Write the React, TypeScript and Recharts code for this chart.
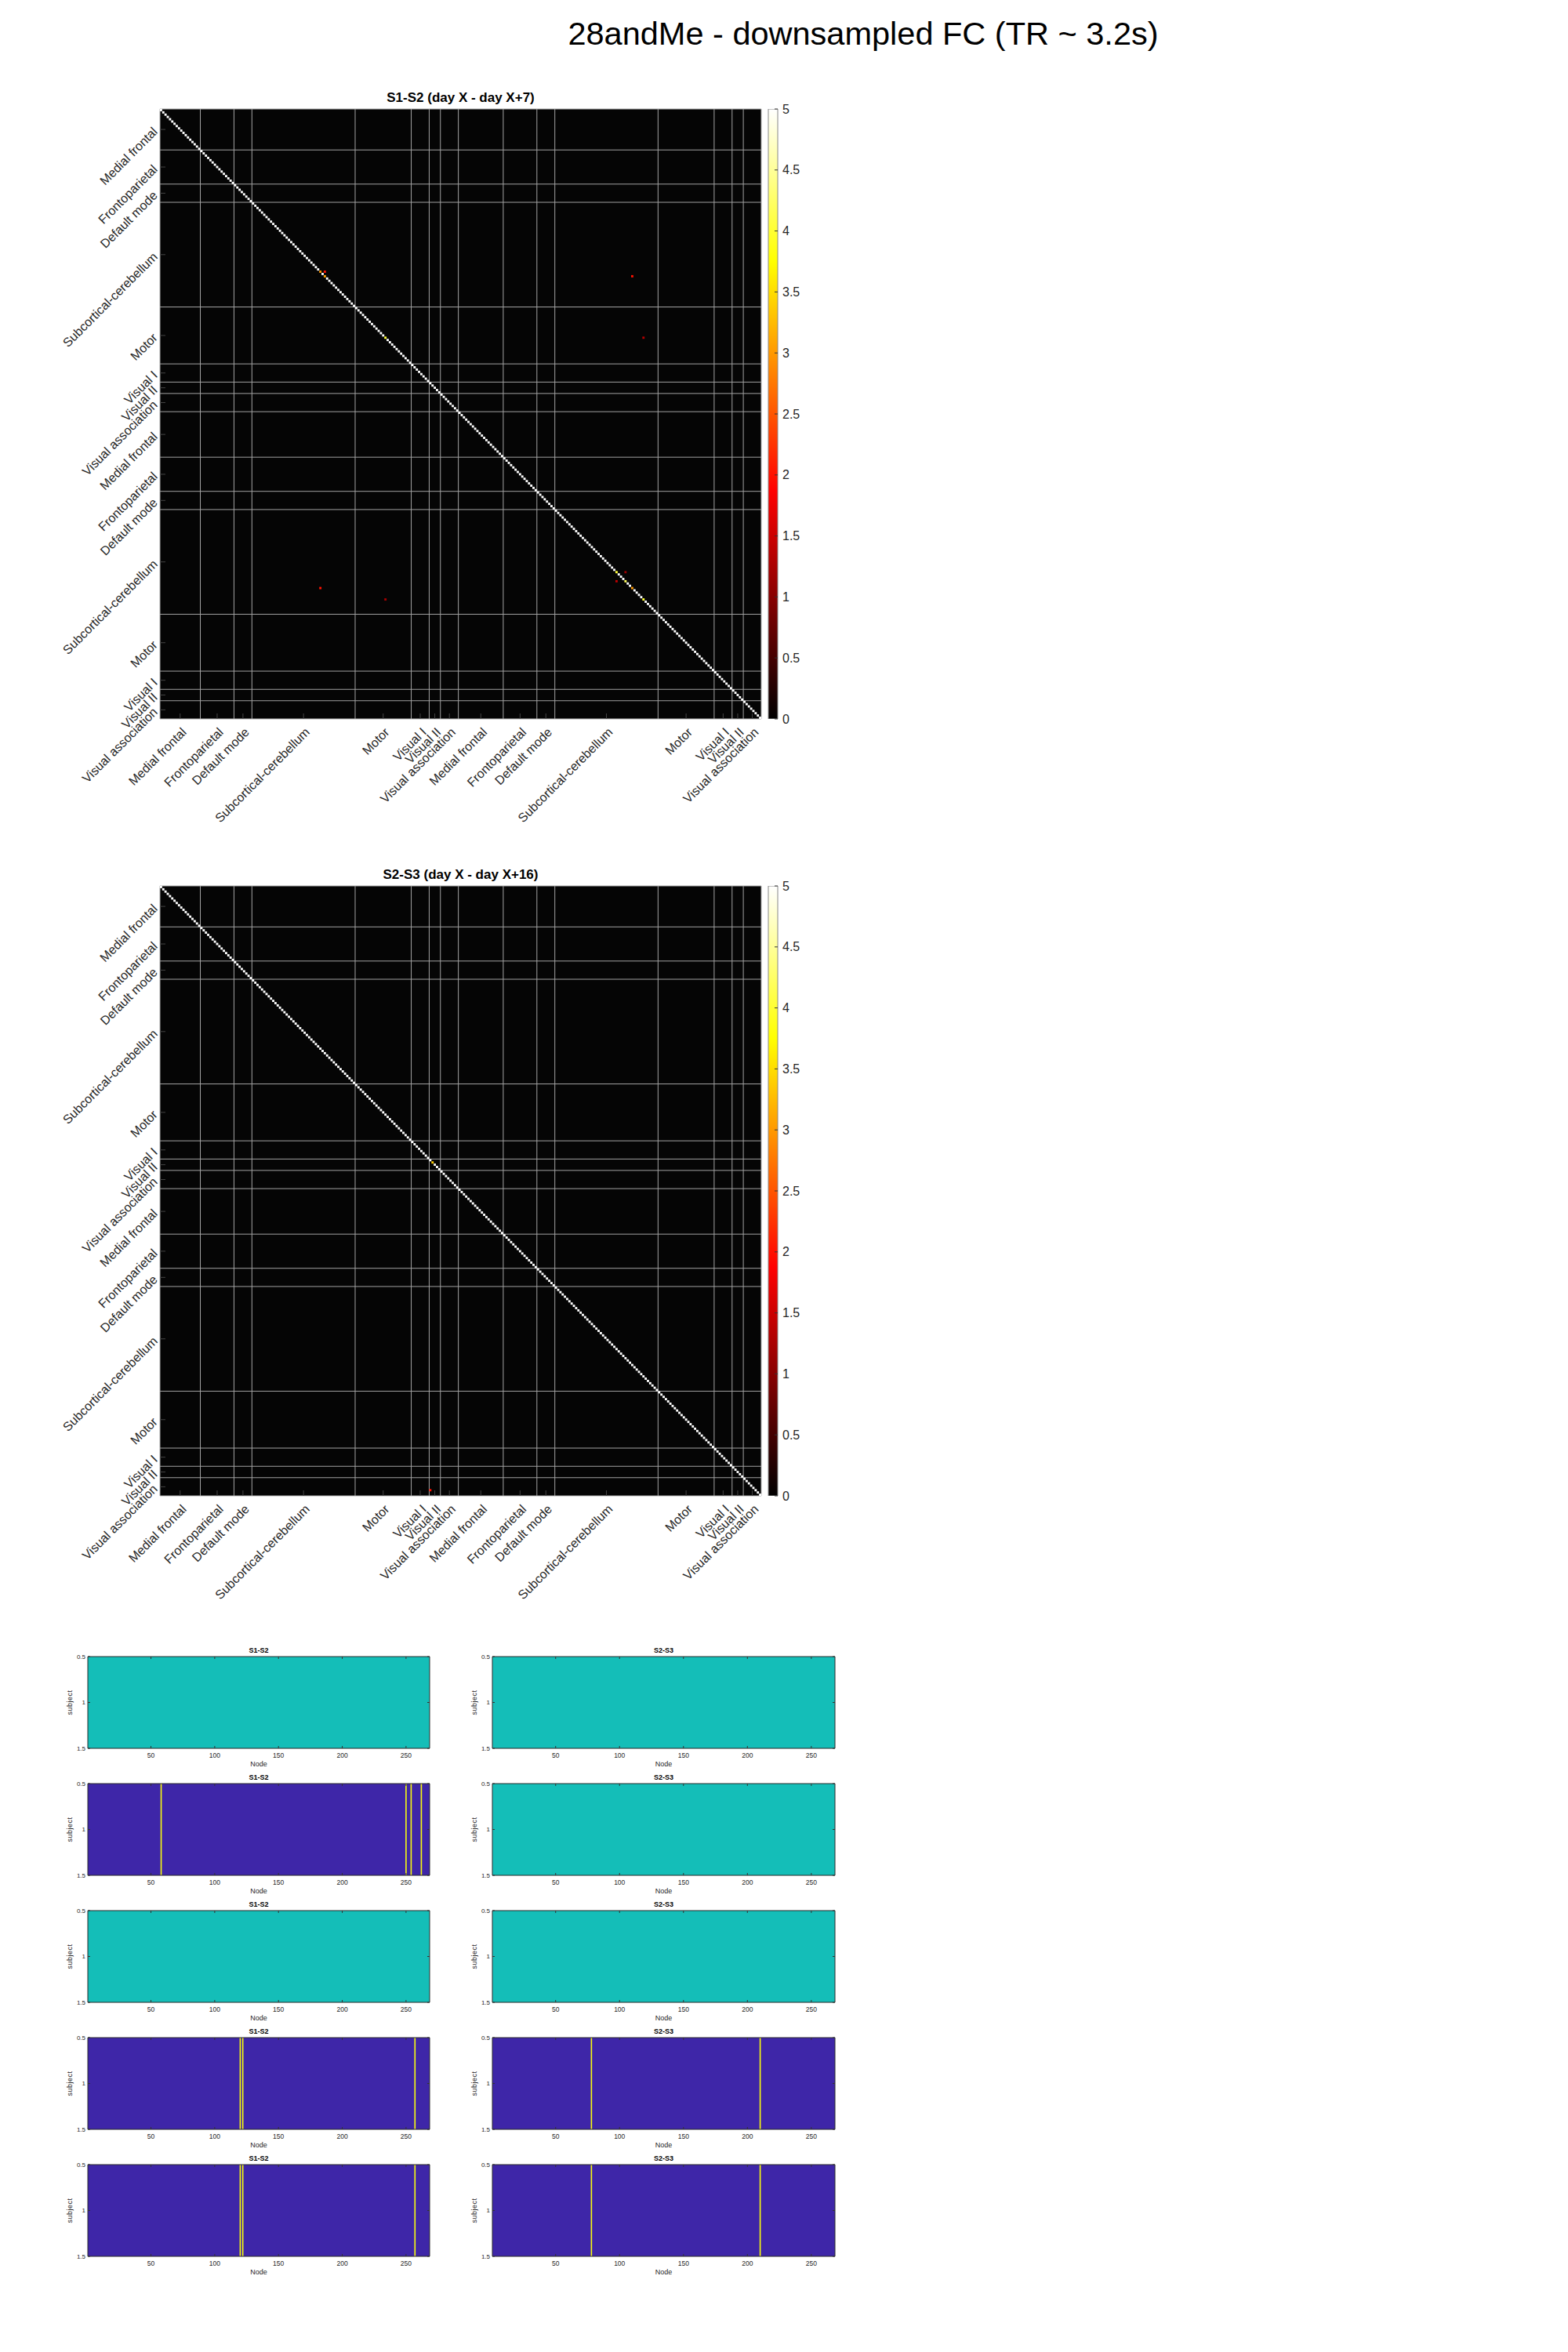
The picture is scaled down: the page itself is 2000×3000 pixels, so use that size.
import React from 'react';
import {
  ScatterChart,
  Scatter,
  XAxis,
  YAxis,
  ReferenceLine,
  ReferenceArea,
  BarChart,
  Bar,
  ComposedChart,
} from 'recharts';

const FONT = '"Liberation Sans", Arial, Helvetica, sans-serif';
const INK = '#262626';

// ---------------- data ----------------
const NODE_COUNT = 268;
const networkNames = [
  'Medial frontal',
  'Frontoparietal',
  'Default mode',
  'Subcortical-cerebellum',
  'Motor',
  'Visual I',
  'Visual II',
  'Visual association',
];
const networkSizesLeft = [18, 15, 8, 46, 25, 8, 5, 8];
const networkSizesRight = [20, 15, 8, 46, 25, 8, 5, 8];

const heatmapTitles = ['S1-S2 (day X - day X+7)', 'S2-S3 (day X - day X+16)'];
const DIAG_VALUE = 5;
// diagonal cells that are not at the maximum value
const s1s2DiagonalExceptions: Record<number, number> = { 72: 3.0, 74: 3.1, 101: 4.0, 204: 4.0, 208: 4.2, 211: 3.0, 216: 4.0 };
const s2s3DiagonalExceptions: Record<number, number> = { 122: 3.4 };
// [column node, row node, value]
const s1s2OffDiagonal: [number, number, number][] = [
  [74, 72, 2.0],
  [211, 74, 2.0],
  [216, 101, 1.3],
  [208, 204, 1.1],
  [204, 208, 1.4],
  [72, 211, 2.0],
  [101, 216, 1.2],
];
const s2s3OffDiagonal: [number, number, number][] = [[121, 266, 2.0]];

const colorbarTicks = [0, 0.5, 1, 1.5, 2, 2.5, 3, 3.5, 4, 4.5, 5];
const colorbarValue = [{ name: 'scale', v: 5 }];

const panelTitles = ['S1-S2', 'S2-S3'];
const nodeTicks = [50, 100, 150, 200, 250];
const subjectTicks = [0.5, 1, 1.5];
// per panel row: whether all nodes are equal (uniform) and which nodes differ
const s1s2Rows = [
  { uniform: true, nodes: [] as number[] },
  { uniform: false, nodes: [58, 250, 254, 262] },
  { uniform: true, nodes: [] as number[] },
  { uniform: false, nodes: [120, 122, 257] },
  { uniform: false, nodes: [120, 122, 257] },
];
const s2s3Rows = [
  { uniform: true, nodes: [] as number[] },
  { uniform: true, nodes: [] as number[] },
  { uniform: true, nodes: [] as number[] },
  { uniform: false, nodes: [78, 210] },
  { uniform: false, nodes: [78, 210] },
];

// ---------------- derived ----------------
const allSizes = [...networkSizesLeft, ...networkSizesRight];
const allNames = [...networkNames, ...networkNames];
const boundaries: number[] = [0.5];
allSizes.forEach((s) => boundaries.push(boundaries[boundaries.length - 1] + s));
const innerBoundaries = boundaries.slice(1, -1);
const centers = allSizes.map((_, i) => (boundaries[i] + boundaries[i + 1]) / 2);
const labelAt = (v: number) => {
  const i = centers.findIndex((c) => Math.abs(c - v) < 1e-6);
  return i >= 0 ? allNames[i] : '';
};
const nodeIds = Array.from({ length: NODE_COUNT }, (_, i) => i + 1);
const DOMAIN: [number, number] = [0.5, NODE_COUNT + 0.5];

function hot(v: number, vmax = 5) {
  const t = Math.max(0, Math.min(1, v / vmax));
  const r = Math.min(1, t / 0.375);
  const g = Math.max(0, Math.min(1, (t - 0.375) / 0.375));
  const b = Math.max(0, Math.min(1, (t - 0.75) / 0.25));
  const h = (x: number) => Math.round(x * 255).toString(16).padStart(2, '0');
  return `#${h(r)}${h(g)}${h(b)}`;
}

// ---------------- layout ----------------
const HM_LEFT = 204;
const PLOT_W = 767;
const PLOT_H = 778;
const hmTops = [139, 1130];
const CHART_W = 1100;
const CHART_H = 1150;
const CB_LEFT = 980;
const CB_W = 12;
const AX = 1; // axis band thickness (must be > 0 for ticks to render)

const PANEL_LEFTS = [112, 628];
const PANEL_WS = [436, 437];
const PANEL_H = 117;
const PANEL_TOP0 = 2113;
const PANEL_PITCH = 162;

const PARULA_LOW = '#3E26A8';
const PARULA_MID = '#14BEB8';
const PARULA_HIGH = '#F9FB0E';

// ---------------- heatmap ----------------
function HmXTick(p: any) {
  const { x, y, payload } = p;
  const ax = x + 5;
  const ay = y + 14;
  return (
    <g>
      <line x1={x} x2={x} y1={y} y2={y - 7} stroke="#444" strokeWidth={1} />
      <text
        x={ax}
        y={ay}
        textAnchor="end"
        dominantBaseline="central"
        transform={`rotate(-45 ${ax} ${ay})`}
        fontSize={16}
        fontFamily={FONT}
        fill={INK}
      >
        {labelAt(payload.value)}
      </text>
    </g>
  );
}

function HmYTick(p: any) {
  const { x, y, payload } = p;
  const ax = x - 6;
  const ay = y;
  return (
    <g>
      <line x1={x} x2={x + 7} y1={y} y2={y} stroke="#444" strokeWidth={1} />
      <text
        x={ax}
        y={ay}
        textAnchor="end"
        dominantBaseline="central"
        transform={`rotate(-45 ${ax} ${ay})`}
        fontSize={16}
        fontFamily={FONT}
        fill={INK}
      >
        {labelAt(payload.value)}
      </text>
    </g>
  );
}

const CELL_W = PLOT_W / NODE_COUNT;
const CELL_H = PLOT_H / NODE_COUNT;
function renderCell(p: any) {
  const { cx, cy, payload } = p;
  return (
    <rect
      x={cx - CELL_W / 2}
      y={cy - CELL_H / 2}
      width={CELL_W}
      height={CELL_H}
      fill={hot(payload.v)}
    />
  );
}

function CbTick(p: any) {
  const { x, y, payload } = p;
  return (
    <g>
      <line x1={x} x2={x - 4} y1={y} y2={y} stroke="#333" strokeWidth={1} />
      <text x={x + 6} y={y} dominantBaseline="central" fontSize={16} fontFamily={FONT} fill={INK}>
        {String(payload.value)}
      </text>
    </g>
  );
}

function Heatmap({ index, diag, off }: { index: number; diag: Record<number, number>; off: [number, number, number][] }) {
  const top = hmTops[index];
  const chartTop = top - 100;
  const cells = [
    ...nodeIds.map((n) => ({ x: n, y: n, v: diag[n] ?? DIAG_VALUE })),
    ...off.map(([x, y, v]) => ({ x, y, v })),
  ];
  const gid = `hotGrad${index}`;
  return (
    <>
      <div
        style={{
          position: 'absolute',
          left: HM_LEFT,
          top,
          width: PLOT_W,
          height: PLOT_H,
          background: '#050505',
        }}
      />
      <div
        style={{
          position: 'absolute',
          left: HM_LEFT,
          width: PLOT_W,
          top: top - 23,
          textAlign: 'center',
          fontFamily: FONT,
          fontWeight: 'bold',
          fontSize: 17,
          lineHeight: '17px',
          color: '#000',
        }}
      >
        {heatmapTitles[index]}
      </div>
      <div style={{ position: 'absolute', left: 0, top: chartTop }}>
        <ScatterChart
          width={CHART_W}
          height={CHART_H}
          margin={{
            top: 100,
            left: HM_LEFT - AX,
            right: CHART_W - HM_LEFT - PLOT_W,
            bottom: CHART_H - 100 - PLOT_H - AX,
          }}
        >
          <XAxis
            type="number"
            dataKey="x"
            domain={DOMAIN}
            ticks={centers}
            interval={0}
            allowDataOverflow
            height={AX}
            tickSize={0}
            tickMargin={0}
            tickLine={false}
            axisLine={false}
            tick={HmXTick}
          />
          <YAxis
            type="number"
            dataKey="y"
            domain={DOMAIN}
            reversed
            ticks={centers}
            interval={0}
            allowDataOverflow
            width={AX}
            tickSize={0}
            tickMargin={0}
            tickLine={false}
            axisLine={false}
            tick={HmYTick}
          />
          <Scatter data={cells} isAnimationActive={false} shape={renderCell} />
          {innerBoundaries.map((b) => (
            <ReferenceLine key={`v${b}`} x={b} stroke="#a3a3a3" strokeWidth={1} />
          ))}
          {innerBoundaries.map((b) => (
            <ReferenceLine key={`h${b}`} y={b} stroke="#a3a3a3" strokeWidth={1} />
          ))}
          <ReferenceArea x1={DOMAIN[0]} x2={DOMAIN[1]} y1={DOMAIN[0]} y2={DOMAIN[1]} fill="none" stroke="#b0b0b0" strokeWidth={1} />
        </ScatterChart>
      </div>
      <div style={{ position: 'absolute', left: CB_LEFT - 20, top: chartTop }}>
        <BarChart
          width={120}
          height={1000}
          data={colorbarValue}
          margin={{ top: 100, left: 20, right: 120 - 20 - CB_W - AX, bottom: 1000 - 100 - PLOT_H }}
          barCategoryGap={0}
          barGap={0}
        >
          <defs>
            <linearGradient id={gid} x1="0" y1="1" x2="0" y2="0">
              <stop offset="0" stopColor="#000000" />
              <stop offset="0.375" stopColor="#ff0000" />
              <stop offset="0.75" stopColor="#ffff00" />
              <stop offset="1" stopColor="#ffffff" />
            </linearGradient>
          </defs>
          <XAxis dataKey="name" hide />
          <YAxis
            orientation="right"
            type="number"
            domain={[0, 5]}
            ticks={colorbarTicks}
            interval={0}
            allowDataOverflow
            width={AX}
            tickSize={0}
            tickMargin={0}
            tickLine={false}
            axisLine={false}
            tick={CbTick}
          />
          <Bar dataKey="v" fill={`url(#${gid})`} stroke="#888" strokeWidth={1} isAnimationActive={false} />
        </BarChart>
      </div>
    </>
  );
}

// ---------------- small panels ----------------
function PanelXTick(p: any) {
  const { x, y, payload } = p;
  return (
    <g>
      <line x1={x} x2={x} y1={y} y2={y - 3} stroke="#333" strokeWidth={1} />
      <line x1={x} x2={x} y1={y - PANEL_H} y2={y - PANEL_H + 3} stroke="#333" strokeWidth={1} />
      <text x={x} y={y + 9} textAnchor="middle" dominantBaseline="central" fontSize={8.5} fontFamily={FONT} fill={INK}>
        {String(payload.value)}
      </text>
    </g>
  );
}

function makePanelYTick(w: number) {
  return function PanelYTick(p: any) {
    const { x, y, payload } = p;
    return (
      <g>
        <line x1={x} x2={x + 3} y1={y} y2={y} stroke="#333" strokeWidth={1} />
        <line x1={x + w} x2={x + w - 3} y1={y} y2={y} stroke="#333" strokeWidth={1} />
        <text x={x - 3} y={y} textAnchor="end" dominantBaseline="central" fontSize={8} fontFamily={FONT} fill={INK}>
          {String(payload.value)}
        </text>
      </g>
    );
  };
}

function Panel({ col, row, data }: { col: number; row: number; data: { uniform: boolean; nodes: number[] } }) {
  const left = PANEL_LEFTS[col];
  const w = PANEL_WS[col];
  const top = PANEL_TOP0 + row * PANEL_PITCH;
  const ml = 50;
  const mt = 20;
  const cw = w + ml + 20;
  const ch = PANEL_H + mt + 40;
  const base = data.uniform ? PARULA_MID : PARULA_LOW;
  return (
    <>
      <div
        style={{
          position: 'absolute',
          left,
          width: w,
          top: top - 12,
          textAlign: 'center',
          fontFamily: FONT,
          fontWeight: 'bold',
          fontSize: 9,
          lineHeight: '9px',
          color: '#000',
        }}
      >
        {panelTitles[col]}
      </div>
      <div
        style={{
          position: 'absolute',
          left,
          width: w,
          top: top + PANEL_H + 16,
          textAlign: 'center',
          fontFamily: FONT,
          fontSize: 9,
          lineHeight: '9px',
          color: INK,
        }}
      >
        Node
      </div>
      <div
        style={{
          position: 'absolute',
          left: left - 23 - 40,
          width: 80,
          top: top + PANEL_H / 2 - 5,
          textAlign: 'center',
          fontFamily: FONT,
          fontSize: 9,
          lineHeight: '9px',
          color: INK,
          transform: 'rotate(-90deg)',
          letterSpacing: '0.5px',
        }}
      >
        subject
      </div>
      <div style={{ position: 'absolute', left: left - ml, top: top - mt }}>
        <ComposedChart
          width={cw}
          height={ch}
          margin={{ top: mt, left: ml - AX, right: cw - ml - w, bottom: ch - mt - PANEL_H - AX }}
        >
          <XAxis
            type="number"
            dataKey="x"
            domain={DOMAIN}
            ticks={nodeTicks}
            interval={0}
            allowDataOverflow
            height={AX}
            tickSize={0}
            tickMargin={0}
            tickLine={false}
            axisLine={false}
            tick={PanelXTick}
          />
          <YAxis
            type="number"
            domain={[0.5, 1.5]}
            reversed
            ticks={subjectTicks}
            interval={0}
            allowDataOverflow
            width={AX}
            tickSize={0}
            tickMargin={0}
            tickLine={false}
            axisLine={false}
            tick={makePanelYTick(w)}
          />
          <ReferenceArea x1={DOMAIN[0]} x2={DOMAIN[1]} y1={0.5} y2={1.5} fill={base} fillOpacity={1} stroke="none" ifOverflow="visible" />
          {data.nodes.map((n) => (
            <ReferenceArea key={n} x1={n - 0.5} x2={n + 0.5} y1={0.5} y2={1.5} fill={PARULA_HIGH} fillOpacity={1} stroke="none" ifOverflow="visible" />
          ))}
          <ReferenceArea x1={DOMAIN[0]} x2={DOMAIN[1]} y1={0.5} y2={1.5} fill="none" stroke="#2b2b2b" strokeWidth={1} ifOverflow="visible" />
        </ComposedChart>
      </div>
    </>
  );
}

export default function App() {
  return (
    <div style={{ position: 'absolute', left: 0, top: 0, width: 2000, height: 3000, background: '#fff', fontFamily: FONT }}>
      <div
        style={{
          position: 'absolute',
          left: 601,
          width: 1000,
          top: 22,
          textAlign: 'center',
          fontSize: 41.5,
          lineHeight: '41.5px',
          color: '#000',
        }}
      >
        28andMe - downsampled FC (TR ~ 3.2s)
      </div>
      <Heatmap index={0} diag={s1s2DiagonalExceptions} off={s1s2OffDiagonal} />
      <Heatmap index={1} diag={s2s3DiagonalExceptions} off={s2s3OffDiagonal} />
      {s1s2Rows.map((d, r) => (
        <Panel key={`a${r}`} col={0} row={r} data={d} />
      ))}
      {s2s3Rows.map((d, r) => (
        <Panel key={`b${r}`} col={1} row={r} data={d} />
      ))}
    </div>
  );
}
